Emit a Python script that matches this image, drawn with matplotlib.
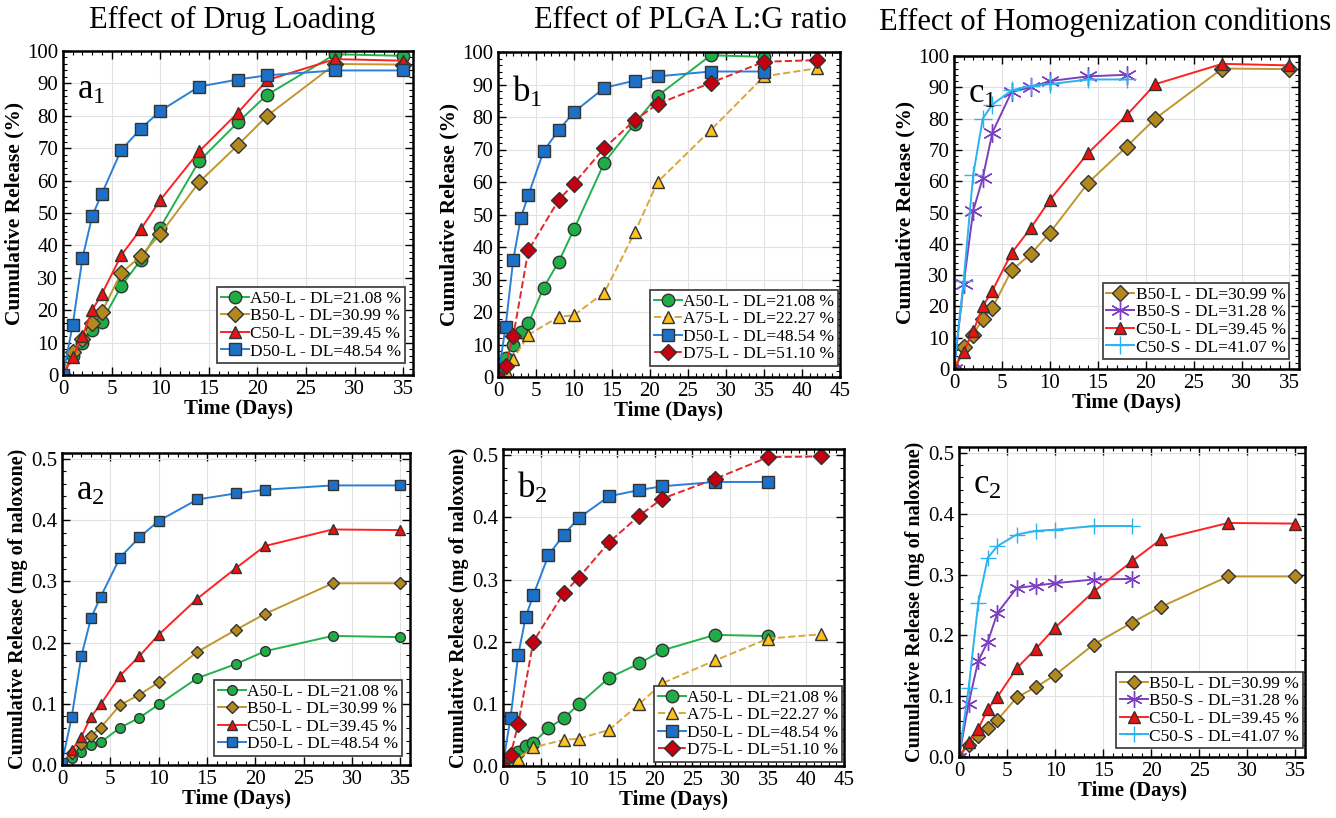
import numpy as np
import matplotlib
matplotlib.use('Agg')
import matplotlib.pyplot as plt
from matplotlib.ticker import MultipleLocator

plt.rcParams['font.family'] = ['Liberation Serif', 'DejaVu Serif']
plt.rcParams['mathtext.fontset'] = 'custom'
plt.rcParams['mathtext.rm'] = 'Liberation Serif'
plt.rcParams['mathtext.it'] = 'Liberation Serif'

# ---- data ----
t_std = [0, 1, 2, 3, 4, 6, 8, 10, 14, 18, 21, 28, 35]
t_a75 = [0, 1, 2, 4, 8, 10, 14, 18, 21, 28, 35, 42]
t_d75 = [0, 1, 2, 4, 8, 10, 14, 18, 21, 28, 35, 42]
t_s = [0, 1, 2, 3, 4, 6, 8, 10, 14, 18]

# cumulative release (%)
pct_a50l = [0, 6, 10, 14, 16.5, 27.5, 35.5, 45.5, 66, 78, 86.5, 99, 98.5]
pct_b50l = [0, 7, 11, 16, 19.5, 31.5, 36.7, 43.5, 59.5, 71, 80, 96, 95.8]
pct_c50l = [0, 5.5, 12, 20, 25, 37, 45, 54, 69, 81, 91, 97.5, 97]
pct_d50l = [0, 15.5, 36, 49, 56, 69.5, 76, 81.5, 89, 91.2, 92.5, 94, 94]
pct_a75l = [0, 2, 5.5, 13, 18.5, 19, 26, 44.5, 60, 76, 92.5, 95]
pct_d75l = [0, 3.5, 12.5, 39, 54.5, 59.5, 70.5, 79, 84, 90.5, 97, 97.5]
pct_b50s = [0, 27, 50.5, 61, 75.5, 88.5, 90, 92, 93.5, 94]
pct_c50s = [0, 28, 62, 80, 84.5, 89, 90.5, 91, 92.5, 92.5]

# cumulative release (mg of naloxone)
mg_a50l = [0, 0.012, 0.022, 0.032, 0.037, 0.061, 0.077, 0.099, 0.142, 0.165, 0.186, 0.211, 0.209]
mg_b50l = [0, 0.02, 0.035, 0.048, 0.061, 0.098, 0.115, 0.135, 0.185, 0.221, 0.247, 0.297, 0.297]
mg_c50l = [0, 0.024, 0.046, 0.079, 0.099, 0.146, 0.178, 0.213, 0.272, 0.322, 0.358, 0.385, 0.384]
mg_d50l = [0.004, 0.078, 0.178, 0.24, 0.275, 0.339, 0.372, 0.399, 0.434, 0.444, 0.45, 0.457, 0.457]
mg_a75l = [0, 0.005, 0.012, 0.03, 0.042, 0.044, 0.058, 0.1, 0.133, 0.17, 0.205, 0.212]
mg_d75l = [0, 0.018, 0.067, 0.2, 0.278, 0.303, 0.36, 0.403, 0.43, 0.462, 0.497, 0.498]
mg_b50s = [0, 0.088, 0.158, 0.19, 0.237, 0.278, 0.282, 0.286, 0.292, 0.293]
mg_c50s = [0, 0.113, 0.253, 0.328, 0.347, 0.366, 0.372, 0.374, 0.38, 0.38]

lab_a50l = 'A50-L - DL=21.08 %'
lab_b50l = 'B50-L - DL=30.99 %'
lab_c50l = 'C50-L - DL=39.45 %'
lab_d50l = 'D50-L - DL=48.54 %'
lab_a75l = 'A75-L - DL=22.27 %'
lab_d75l = 'D75-L - DL=51.10 %'
lab_b50s = 'B50-S - DL=31.28 %'
lab_c50s = 'C50-S - DL=41.07 %'

# style per sample: line colour, marker, face colour, linestyle
STY = {
    'A50-L': dict(color='#22b24c', marker='o', mfc='#1fae46', ls='-'),
    'B50-L': dict(color='#c0972e', marker='D', mfc='#b3881c', ls='-'),
    'C50-L': dict(color='#ff2222', marker='^', mfc='#ee1111', ls='-'),
    'D50-L': dict(color='#2a80d6', marker='s', mfc='#1d70c8', ls='-'),
    'A75-L': dict(color='#dba73c', marker='^', mfc='#ffc21a', ls='--'),
    'D75-L': dict(color='#e42828', marker='D', mfc='#c40010', ls='--'),
    'B50-S': dict(color='#7b40c0', marker=(6, 2, 0), mfc='#7b40c0', ls='-'),
    'C50-S': dict(color='#2ab3f0', marker='+', mfc='#2ab3f0', ls='-'),
}

W, H = 1336, 818
fig = plt.figure(figsize=(W / 100, H / 100), dpi=100)


def make_ax(l, t, r, b):
    return fig.add_axes([l / W, 1 - b / H, (r - l) / W, (b - t) / H])


def series(ax, key, x, y, label, ms):
    s = STY[key]
    edge = s['mfc'] if key in ('B50-S', 'C50-S') else '#333333'
    size = ms * 1.5 if key in ('B50-S', 'C50-S') else ms
    if s['marker'] == 'D':
        size = ms * 0.85
    ax.plot(x, y, color=s['color'], ls=s['ls'], lw=1.4, marker=s['marker'],
            markerfacecolor=s['mfc'], markeredgecolor=edge, markeredgewidth=1.0,
            markersize=size, label=label)


def style_ax(ax, xmax, ymax, ymaj, ymin, ylabel, ylsize, tag, legend_anchor):
    ax.set_xlim(0, xmax)
    ax.set_ylim(0, ymax)
    ax.xaxis.set_major_locator(MultipleLocator(5))
    ax.xaxis.set_minor_locator(MultipleLocator(1))
    ax.yaxis.set_major_locator(MultipleLocator(ymaj))
    ax.yaxis.set_minor_locator(MultipleLocator(ymin))
    ax.tick_params(which='both', direction='in', top=True, right=True, labelsize=15)
    ax.tick_params(which='major', length=6, width=1)
    ax.tick_params(which='minor', length=3, width=0.8)
    ax.grid(True, which='major', color='#e2e2e2', lw=0.8)
    ax.set_axisbelow(True)
    for sp in ax.spines.values():
        sp.set_linewidth(1.8)
    ax.set_xlabel('Time (Days)', fontsize=15, fontweight='bold', labelpad=0)
    ax.set_ylabel(ylabel, fontsize=ylsize, fontweight='bold', labelpad=2)
    ax.text(0.04, 0.93, tag, transform=ax.transAxes, fontsize=25, va='top', ha='left')
    leg = ax.legend(loc='lower right', bbox_to_anchor=legend_anchor, fontsize=12.5,
                    frameon=True, fancybox=False, framealpha=1, edgecolor='#444444',
                    handlelength=1.6, handletextpad=0.1, labelspacing=0.08,
                    borderpad=0.2, borderaxespad=0)
    leg.get_frame().set_linewidth(1.3)


ylab1 = 'Cumulative Release (%)'
ylab2 = 'Cumulative Release (mg of naloxone)'

# ---- top row ----
ax = make_ax(63, 51, 413, 375)
series(ax, 'A50-L', t_std, pct_a50l, lab_a50l, 9)
series(ax, 'B50-L', t_std, pct_b50l, lab_b50l, 9)
series(ax, 'C50-L', t_std, pct_c50l, lab_c50l, 9)
series(ax, 'D50-L', t_std, pct_d50l, lab_d50l, 9)
style_ax(ax, 36, 100, 10, 2, ylab1, 15.5, r'$\mathrm{a}_1$', (0.977, 0.037))

ax = make_ax(498, 52, 840, 377)
series(ax, 'A50-L', t_std, pct_a50l, lab_a50l, 9)
series(ax, 'A75-L', t_a75, pct_a75l, lab_a75l, 9)
series(ax, 'D50-L', t_std, pct_d50l, lab_d50l, 9)
series(ax, 'D75-L', t_d75, pct_d75l, lab_d75l, 9)
style_ax(ax, 45, 100, 10, 2, ylab1, 15.5, r'$\mathrm{b}_1$', (0.994, 0.034))

ax = make_ax(954, 56, 1299, 369)
series(ax, 'B50-L', t_std, pct_b50l, lab_b50l, 9)
series(ax, 'B50-S', t_s, pct_b50s, lab_b50s, 9)
series(ax, 'C50-L', t_std, pct_c50l, lab_c50l, 9)
series(ax, 'C50-S', t_s, pct_c50s, lab_c50s, 9)
style_ax(ax, 36, 100, 10, 2, ylab1, 15.5, r'$\mathrm{c}_1$', (0.971, 0.032))

# ---- bottom row ----
ax = make_ax(62, 453, 410, 765)
series(ax, 'A50-L', t_std, mg_a50l, lab_a50l, 7)
series(ax, 'B50-L', t_std, mg_b50l, lab_b50l, 7)
series(ax, 'C50-L', t_std, mg_c50l, lab_c50l, 7)
series(ax, 'D50-L', t_std, mg_d50l, lab_d50l, 7)
style_ax(ax, 36, 0.51, 0.1, 0.02, ylab2, 14.5, r'$\mathrm{a}_2$', (0.977, 0.029))

ax = make_ax(503, 449, 844, 766)
series(ax, 'A50-L', t_std, mg_a50l, lab_a50l, 9)
series(ax, 'A75-L', t_a75, mg_a75l, lab_a75l, 9)
series(ax, 'D50-L', t_std, mg_d50l, lab_d50l, 9)
series(ax, 'D75-L', t_d75, mg_d75l, lab_d75l, 9)
style_ax(ax, 45, 0.51, 0.1, 0.02, ylab2, 14.5, r'$\mathrm{b}_2$', (0.994, 0.013))

ax = make_ax(959, 447, 1305, 757)
series(ax, 'B50-L', t_std, mg_b50l, lab_b50l, 8)
series(ax, 'B50-S', t_s, mg_b50s, lab_b50s, 8)
series(ax, 'C50-L', t_std, mg_c50l, lab_c50l, 8)
series(ax, 'C50-S', t_s, mg_c50s, lab_c50s, 8)
style_ax(ax, 36, 0.51, 0.1, 0.02, ylab2, 14.5, r'$\mathrm{c}_2$', (0.994, 0.029))

# column titles
fig.text(232 / W, 1 - 20 / H, 'Effect of Drug Loading', fontsize=22, ha='center', va='center')
fig.text(690 / W, 1 - 20 / H, 'Effect of PLGA L:G ratio', fontsize=22, ha='center', va='center')
fig.text(1105 / W, 1 - 22 / H, 'Effect of Homogenization conditions', fontsize=22, ha='center', va='center')

fig.savefig('out.png', dpi=100)
